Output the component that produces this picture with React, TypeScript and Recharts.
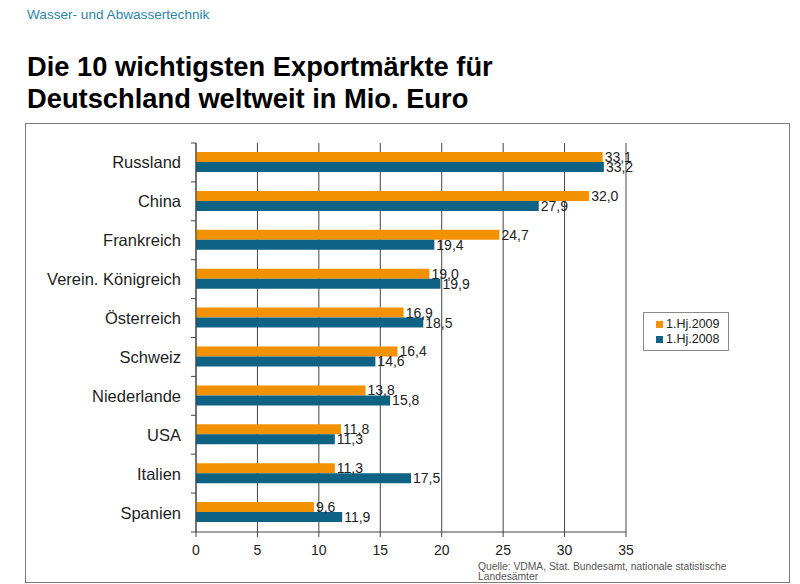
import React from 'react';
import { BarChart, Bar, XAxis, YAxis, CartesianGrid, Legend, LabelList } from 'recharts';

const markets = [
  'Russland',
  'China',
  'Frankreich',
  'Verein. Königreich',
  'Österreich',
  'Schweiz',
  'Niederlande',
  'USA',
  'Italien',
  'Spanien',
];
const h1_2009 = [33.1, 32.0, 24.7, 19.0, 16.9, 16.4, 13.8, 11.8, 11.3, 9.6];
const h1_2008 = [33.2, 27.9, 19.4, 19.9, 18.5, 14.6, 15.8, 11.3, 17.5, 11.9];
const seriesNames = ['1.Hj.2009', '1.Hj.2008'];
const xTicks = [0, 5, 10, 15, 20, 25, 30, 35];

const ORANGE = '#F29200';
const BLUE = '#0E6385';
const FONT = '"Liberation Sans", Arial, sans-serif';

const W = 800;
const H = 584;
const MARGIN = { top: 143, right: 174, bottom: 22, left: 0 };
const X_AXIS_H = 30;
const PLOT_H = H - MARGIN.top - MARGIN.bottom - X_AXIS_H;
const BAND = PLOT_H / markets.length;

const data = markets.map((name, i) => ({ name, y2009: h1_2009[i], y2008: h1_2008[i] }));

const fmt = (v: number) => v.toFixed(1).replace('.', ',');

// category label plus small tick marks on the band boundaries
const CategoryTick = (props: any) => {
  const { x, y, payload, index } = props;
  return (
    <g>
      <text x={x - 10} y={y} textAnchor="end" dominantBaseline="central" fontSize={16.5} fill="#1e1e1e" fontFamily={FONT}>
        {payload.value}
      </text>
      <line x1={x} x2={x + 5} y1={y - BAND / 2} y2={y - BAND / 2} stroke="#444" />
      {index === markets.length - 1 && (
        <line x1={x} x2={x + 5} y1={y + BAND / 2} y2={y + BAND / 2} stroke="#444" />
      )}
    </g>
  );
};

const LegendBox = (props: any) => {
  const items = [...(props.payload || [])].sort(
    (a: any, b: any) => seriesNames.indexOf(a.value) - seriesNames.indexOf(b.value)
  );
  return (
    <div
      style={{
        border: '1px solid #8a8a8a',
        background: '#fff',
        padding: '4px 0 3px 12px',
        fontFamily: FONT,
        fontSize: 12.5,
        color: '#222',
        lineHeight: '15px',
      }}
    >
      {items.map((p: any) => (
        <div key={p.value} style={{ display: 'flex', alignItems: 'center' }}>
          <span style={{ width: 7, height: 7, background: p.color, marginRight: 3, display: 'inline-block' }} />
          {p.value}
        </div>
      ))}
    </div>
  );
};

export default function App() {
  return (
    <div style={{ position: 'absolute', left: 0, top: 0, width: W, height: H, background: '#fff', fontFamily: FONT }}>
      <div style={{ position: 'absolute', left: 27, top: 7, fontSize: 13.6, color: '#2E85A5' }}>
        Wasser- und Abwassertechnik
      </div>
      <div
        style={{
          position: 'absolute',
          left: 27,
          top: 51,
          fontSize: 27.3,
          fontWeight: 'bold',
          lineHeight: '32px',
          color: '#000',
        }}
      >
        Die 10 wichtigsten Exportmärkte für
        <br />
        Deutschland weltweit in Mio. Euro
      </div>
      <div
        style={{
          position: 'absolute',
          left: 25,
          top: 123,
          width: 763,
          height: 458,
          border: '1px solid #7a7a7a',
        }}
      />
      <div style={{ position: 'absolute', left: 0, top: 0 }}>
        <BarChart
          width={W}
          height={H}
          data={data}
          layout="vertical"
          margin={MARGIN}
          barSize={10}
          barGap={0}
        >
          <CartesianGrid horizontal={false} stroke="#444" />
          <XAxis
            type="number"
            domain={[0, 35]}
            ticks={xTicks}
            height={X_AXIS_H}
            interval={0}
            stroke="#444"
            tickSize={5}
            tickMargin={8}
            tick={{ fontSize: 14, fill: '#222', fontFamily: FONT }}
          />
          <XAxis
            xAxisId="top"
            type="number"
            domain={[0, 35]}
            orientation="top"
            height={0}
            tick={false}
            tickLine={false}
            stroke="#444"
          />
          <YAxis
            type="category"
            dataKey="name"
            width={196}
            interval={0}
            stroke="#444"
            tickLine={false}
            tickSize={5}
            tickMargin={0}
            tick={<CategoryTick />}
          />
          <Legend
            layout="horizontal"
            align="center"
            verticalAlign="middle"
            content={<LegendBox />}
            wrapperStyle={{ left: 643, top: 312, width: 86 }}
          />
          <Bar dataKey="y2009" name={seriesNames[0]} fill={ORANGE} isAnimationActive={false}>
            <LabelList dataKey="y2009" position="right" offset={2} formatter={fmt} fontSize={14} fill="#222" fontFamily={FONT} />
          </Bar>
          <Bar dataKey="y2008" name={seriesNames[1]} fill={BLUE} isAnimationActive={false}>
            <LabelList dataKey="y2008" position="right" offset={2} formatter={fmt} fontSize={14} fill="#222" fontFamily={FONT} />
          </Bar>
        </BarChart>
      </div>
      <div
        style={{
          position: 'absolute',
          left: 478,
          top: 562,
          width: 300,
          fontSize: 10.3,
          lineHeight: '10px',
          color: '#555',
        }}
      >
        Quelle: VDMA, Stat. Bundesamt, nationale statistische
        <br />
        Landesämter
      </div>
    </div>
  );
}
